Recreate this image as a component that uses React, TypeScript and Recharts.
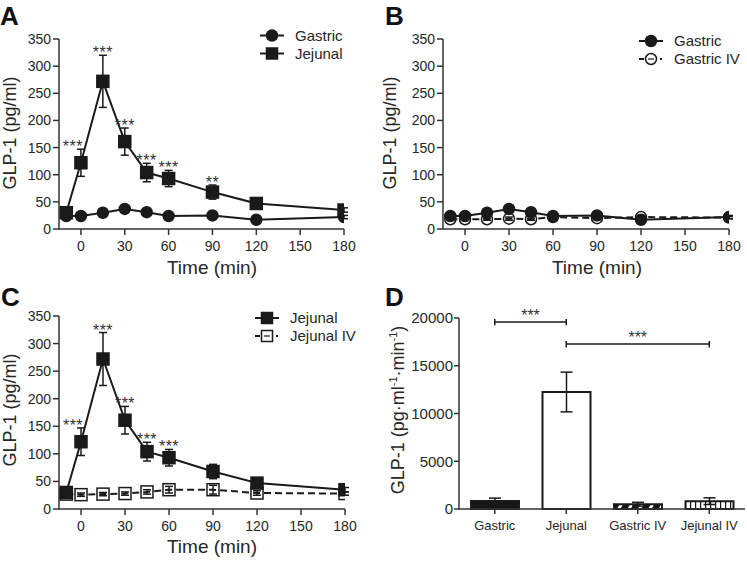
import {
  Bar,
  Cell,
  ComposedChart,
  ErrorBar,
  LabelList,
  Line,
  ReferenceLine,
  XAxis,
  YAxis,
} from 'recharts'

// time course (min)
const times = [-10, 0, 15, 30, 45, 60, 90, 120, 180]
const timeTicks = [0, 30, 60, 90, 120, 150, 180]
const glpTicks = [0, 50, 100, 150, 200, 250, 300, 350]

const gastricMean = [24, 24, 30, 37, 31, 24, 25, 17, 22]
const gastricErr = [3, 3, 3, 3, 3, 2, 3, 2, 3]
const jejunalMean = [30, 122, 272, 161, 104, 93, 68, 47, 35]
const jejunalErr = [4, 25, 48, 25, 17, 15, 13, 8, 4]
const gastricIvMean = [18, 18, 18, 19, 18, 22, 20, 22, 21]
const gastricIvErr = [2, 2, 2, 3, 2, 3, 3, 3, 2]
const jejunalIvMean = [27, 26, 27, 28, 31, 35, 35, 29, 28]
const jejunalIvErr = [2, 3, 3, 3, 4, 6, 8, 4, 3]

const sigA = ['', '***', '***', '***', '***', '***', '**', '', '']
const sigC = ['', '***', '***', '***', '***', '***', '', '', '']

// AUC panel
const groups = ['Gastric', 'Jejunal', 'Gastric IV', 'Jejunal IV']
const aucMean = [840, 12250, 500, 820]
const aucErr = [300, 2080, 200, 350]
const aucTicks = [0, 5000, 10000, 15000, 20000]
const groupFills = ['#151515', '#ffffff', 'url(#diagStripe)', 'url(#vertStripe)']

const FONT = '"Liberation Sans", Arial, Helvetica, sans-serif'
const INK = '#1a1a1a'
const TEXT = '#262626'
const AXIS = '#333'

const rowsA = times.map((t, i) => ({
  t,
  gastric: gastricMean[i],
  gastricErr: gastricErr[i],
  jejunal: jejunalMean[i],
  jejunalErr: jejunalErr[i],
  starY: jejunalMean[i] + jejunalErr[i],
  sig: sigA[i],
}))

const rowsB = times.map((t, i) => ({
  t,
  gastric: gastricMean[i],
  gastricErr: gastricErr[i],
  gastricIv: gastricIvMean[i],
  gastricIvErr: gastricIvErr[i],
}))

const rowsC = times.map((t, i) => ({
  t,
  jejunal: jejunalMean[i],
  jejunalErr: jejunalErr[i],
  jejunalIv: jejunalIvMean[i],
  jejunalIvErr: jejunalIvErr[i],
  starY: jejunalMean[i] + jejunalErr[i],
  sig: sigC[i],
}))

const rowsD = groups.map((g, i) => ({ g, auc: aucMean[i], aucErr: aucErr[i] }))

const dotShape = (kind: 'circle' | 'square', filled: boolean) => (p: any) => {
  const { cx, cy, index } = p
  if (cx == null || cy == null) return <g key={`n${index}`} />
  const fill = filled ? INK : 'none'
  if (kind === 'circle')
    return <circle key={`c${index}`} cx={cx} cy={cy} r={5.5} fill={fill} stroke={INK} strokeWidth={1.5} />
  return <rect key={`r${index}`} x={cx - 6} y={cy - 6} width={12} height={12} fill={fill} stroke={INK} strokeWidth={1.5} />
}

const starContent = (p: any) => {
  if (!p.value) return null
  const x = p.x ?? p.viewBox?.x
  const y = p.y ?? p.viewBox?.y
  const dx = p.index === 1 ? -8 : 0
  return (
    <text
      key={`s${p.index}`}
      x={x + dx}
      y={y + 3}
      textAnchor="middle"
      fontSize={16}
      letterSpacing={0.5}
      fill="#333"
      style={{ fill: '#333' }}
      fontFamily={FONT}
    >
      {p.value}
    </text>
  )
}

const xTitle = (x: number, y: number) => () => (
  <text x={x} y={y} textAnchor="middle" fontSize={19} fill={TEXT} fontFamily={FONT}>
    Time (min)
  </text>
)

const yTitle = (x: number, y: number) => () => (
  <text x={x} y={y} transform={`rotate(-90 ${x} ${y})`} textAnchor="middle" fontSize={18} fill={TEXT} fontFamily={FONT}>
    GLP-1 (pg/ml)
  </text>
)

const tickStyle = { fontSize: 14, fill: TEXT, fontFamily: FONT }

const timeAxes = (xt: [number, number], yt: [number, number]) => [
  <XAxis
    key="x"
    dataKey="t"
    type="number"
    domain={[-15, 180]}
    ticks={timeTicks}
    allowDataOverflow
    height={30}
    stroke={AXIS}
    axisLine={{ strokeWidth: 1.5 }}
    tickLine={{ strokeWidth: 1.5 }}
    tickSize={6}
    tickMargin={6}
    tick={tickStyle}
    label={xTitle(xt[0], xt[1])}
  />,
  <YAxis
    key="y"
    type="number"
    domain={[0, 350]}
    ticks={glpTicks}
    width={39}
    stroke={AXIS}
    axisLine={{ strokeWidth: 1.5 }}
    tickLine={{ strokeWidth: 1.5 }}
    tickSize={6}
    tickMargin={2}
    tick={tickStyle}
    label={yTitle(yt[0], yt[1])}
  />,
]

const starLine = (
  <Line key="stars" dataKey="starY" stroke="none" dot={false} activeDot={false} isAnimationActive={false}>
    <LabelList dataKey="sig" content={starContent} />
  </Line>
)

function LegendRow({ x, y, kind, filled, dashed, label }: any) {
  return (
    <g>
      {dashed ? (
        <>
          <line x1={x - 12} y1={y} x2={x - 7} y2={y} stroke={INK} strokeWidth={2} />
          <line x1={x + 9} y1={y} x2={x + 11} y2={y} stroke={INK} strokeWidth={2} />
          <line x1={x - 3} y1={y} x2={x + 3} y2={y} stroke={INK} strokeWidth={1.2} />
        </>
      ) : (
        <line x1={x - 12} y1={y} x2={x + 12} y2={y} stroke={INK} strokeWidth={2} />
      )}
      {kind === 'circle' ? (
        <circle cx={x} cy={y} r={5.5} fill={filled ? INK : 'none'} stroke={INK} strokeWidth={1.5} />
      ) : (
        <rect x={x - 5.5} y={y - 5.5} width={11} height={11} fill={filled ? INK : 'none'} stroke={INK} strokeWidth={1.5} />
      )}
      <text x={x + 23} y={y + 5} fontSize={15} fill={TEXT} fontFamily={FONT}>
        {label}
      </text>
    </g>
  )
}

const bracketLabel = { value: '***', position: 'top' as const, offset: 1, fontSize: 16, fill: '#333', fontFamily: FONT }

export default function App() {
  return (
    <div style={{ position: 'absolute', left: 0, top: 0, width: 747, height: 562, background: '#fff' }}>
      <div style={{ position: 'absolute', left: 0, top: 0 }}>
        <ComposedChart width={375} height={280} data={rowsA} margin={{ top: 39, right: 31, bottom: 21, left: 20 }}>
          {timeAxes([212, 274], [16, 133])}
          <Line dataKey="gastric" stroke={INK} strokeWidth={2} dot={dotShape('circle', true)} activeDot={false} isAnimationActive={false}>
            <ErrorBar dataKey="gastricErr" width={4} stroke={INK} strokeWidth={1.5} />
          </Line>
          <Line dataKey="jejunal" stroke={INK} strokeWidth={2} dot={dotShape('square', true)} activeDot={false} isAnimationActive={false}>
            <ErrorBar dataKey="jejunalErr" width={4} stroke={INK} strokeWidth={1.5} />
          </Line>
          {starLine}
        </ComposedChart>
      </div>

      <div style={{ position: 'absolute', left: 375, top: 0 }}>
        <ComposedChart width={372} height={280} data={rowsB} margin={{ top: 39, right: 18, bottom: 21, left: 29 }}>
          {timeAxes([222, 274], [21, 133])}
          <Line dataKey="gastricIv" stroke={INK} strokeWidth={2} strokeDasharray="7 4" dot={dotShape('circle', false)} activeDot={false} isAnimationActive={false}>
            <ErrorBar dataKey="gastricIvErr" width={4} stroke={INK} strokeWidth={1.5} />
          </Line>
          <Line dataKey="gastric" stroke={INK} strokeWidth={2} dot={dotShape('circle', true)} activeDot={false} isAnimationActive={false}>
            <ErrorBar dataKey="gastricErr" width={4} stroke={INK} strokeWidth={1.5} />
          </Line>
        </ComposedChart>
      </div>

      <div style={{ position: 'absolute', left: 0, top: 280 }}>
        <ComposedChart width={375} height={282} data={rowsC} margin={{ top: 36, right: 30, bottom: 23, left: 20 }}>
          {timeAxes([212, 273], [16, 130])}
          <Line dataKey="jejunalIv" stroke={INK} strokeWidth={2} strokeDasharray="7 4" dot={dotShape('square', false)} activeDot={false} isAnimationActive={false}>
            <ErrorBar dataKey="jejunalIvErr" width={4} stroke={INK} strokeWidth={1.5} />
          </Line>
          <Line dataKey="jejunal" stroke={INK} strokeWidth={2} dot={dotShape('square', true)} activeDot={false} isAnimationActive={false}>
            <ErrorBar dataKey="jejunalErr" width={4} stroke={INK} strokeWidth={1.5} />
          </Line>
          {starLine}
        </ComposedChart>
      </div>

      <div style={{ position: 'absolute', left: 375, top: 280 }}>
        <ComposedChart width={372} height={282} data={rowsD} margin={{ top: 38, right: 2, bottom: 23, left: 24 }}>
          <defs>
            <pattern id="diagStripe" width={9} height={9} patternUnits="userSpaceOnUse" patternTransform="rotate(30)">
              <rect width={9} height={9} fill="#151515" />
              <rect width={3} height={9} fill="#fff" />
            </pattern>
            <pattern id="vertStripe" width={5} height={5} patternUnits="userSpaceOnUse">
              <rect width={5} height={5} fill="#fff" />
              <rect width={1.2} height={5} fill="#151515" />
            </pattern>
          </defs>
          <XAxis
            dataKey="g"
            type="category"
            height={30}
            stroke={AXIS}
            axisLine={{ strokeWidth: 1.5 }}
            tickLine={{ strokeWidth: 1.5 }}
            tickSize={5}
            tickMargin={7}
            tick={{ fontSize: 13, fill: TEXT, fontFamily: FONT }}
            interval={0}
          />
          <YAxis
            type="number"
            domain={[0, 20000]}
            ticks={aucTicks}
            width={60}
            stroke={AXIS}
            axisLine={{ strokeWidth: 1.5 }}
            tickLine={{ strokeWidth: 1.5 }}
            tickSize={5}
            tickMargin={1}
            tick={{ fontSize: 15, fill: TEXT, fontFamily: FONT }}
            label={() => (
              <text x={29} y={130} transform="rotate(-90 29 130)" textAnchor="middle" fontSize={18} fill={TEXT} fontFamily={FONT}>
                GLP-1 (pg·ml
                <tspan dy={-7} fontSize={11}>-1</tspan>
                <tspan dy={7}>·min</tspan>
                <tspan dy={-7} fontSize={11}>-1</tspan>
                <tspan dy={7}>)</tspan>
              </text>
            )}
          />
          <Bar dataKey="auc" barSize={48} stroke={INK} strokeWidth={2} isAnimationActive={false}>
            {rowsD.map((r, i) => (
              <Cell key={r.g} fill={groupFills[i]} />
            ))}
            <ErrorBar dataKey="aucErr" width={6} stroke={INK} strokeWidth={1.5} />
          </Bar>
          <ReferenceLine segment={[{ x: 'Gastric', y: 19580 }, { x: 'Jejunal', y: 19580 }]} stroke={INK} strokeWidth={1.5} label={bracketLabel} />
          <ReferenceLine segment={[{ x: 'Gastric', y: 19250 }, { x: 'Gastric', y: 19900 }]} stroke={INK} strokeWidth={1.5} />
          <ReferenceLine segment={[{ x: 'Jejunal', y: 19250 }, { x: 'Jejunal', y: 19900 }]} stroke={INK} strokeWidth={1.5} />
          <ReferenceLine segment={[{ x: 'Jejunal', y: 17270 }, { x: 'Jejunal IV', y: 17270 }]} stroke={INK} strokeWidth={1.5} label={bracketLabel} />
          <ReferenceLine segment={[{ x: 'Jejunal', y: 16900 }, { x: 'Jejunal', y: 17600 }]} stroke={INK} strokeWidth={1.5} />
          <ReferenceLine segment={[{ x: 'Jejunal IV', y: 16900 }, { x: 'Jejunal IV', y: 17600 }]} stroke={INK} strokeWidth={1.5} />
        </ComposedChart>
      </div>

      <svg width={747} height={562} style={{ position: 'absolute', left: 0, top: 0, pointerEvents: 'none' }}>
        <g fontFamily={FONT} fontWeight="bold" fontSize={26} fill="#111">
          <text x={0} y={25}>A</text>
          <text x={385} y={25}>B</text>
          <text x={1} y={306}>C</text>
          <text x={385} y={306}>D</text>
        </g>
        <LegendRow x={272} y={35.5} kind="circle" filled label="Gastric" />
        <LegendRow x={272} y={53.5} kind="square" filled label="Jejunal" />
        <LegendRow x={651} y={41} kind="circle" filled label="Gastric" />
        <LegendRow x={651} y={59} kind="circle" dashed label="Gastric IV" />
        <LegendRow x={267} y={318} kind="square" filled label="Jejunal" />
        <LegendRow x={267} y={336} kind="square" dashed label="Jejunal IV" />
      </svg>
    </div>
  )
}
